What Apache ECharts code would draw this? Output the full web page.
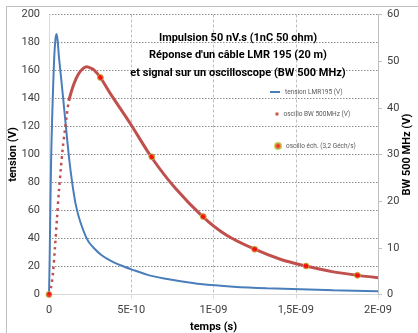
<!DOCTYPE html>
<html>
<head>
<meta charset="utf-8">
<script src="https://cdn.jsdelivr.net/npm/echarts@6/dist/echarts.min.js"></script>
<style>
html,body{margin:0;padding:0;background:#fff;}
#chart{width:418px;height:333px;}
</style>
</head>
<body>
<div id="chart"></div>
<script>
// time in ns (axis labels shown in seconds)
const xTickLabels = ['0', '5E-10', '1E-09', '1,5E-09', '2E-09'];
const leftTicks = [0, 20, 40, 60, 80, 100, 120, 140, 160, 180, 200];
const rightTicks = [0, 10, 20, 30, 40, 50, 60];

// tension LMR195 (V) - left axis
const tBlue = [0, 0.004, 0.008, 0.013, 0.019, 0.025, 0.032, 0.039, 0.045, 0.052, 0.061, 0.082, 0.102, 0.122, 0.142, 0.163, 0.19, 0.234, 0.274, 0.32, 0.376, 0.443, 0.505, 0.6, 0.7, 0.8, 0.92, 1.12, 1.325, 1.53, 1.73, 2.0];
const vBlue = [0, 25, 60, 97, 125, 148, 170, 182, 186, 182, 169, 145, 121, 97.5, 79, 64, 52, 39, 33, 28, 24, 20.5, 17.8, 14, 11.5, 9.5, 7.5, 5.6, 4.4, 3.7, 3.0, 2.3];

// oscillo BW 500MHz (V) - right axis, steep rising part
const tOscRise = [0, 0.012, 0.024, 0.036, 0.048, 0.060, 0.072, 0.084, 0.096, 0.108, 0.120];
const vOscRise = [0, 1.5, 4.5, 10, 16, 22, 27, 31.5, 35, 38.5, 41.5];
// oscillo BW 500MHz (V) - right axis, rest of curve
const tOsc = [0.120, 0.15, 0.18, 0.21, 0.23, 0.26, 0.274, 0.3125, 0.372, 0.493, 0.625, 0.767, 0.9375, 1.08, 1.25, 1.41, 1.5625, 1.72, 1.875, 2.0];
const vOsc = [41.5, 45, 47.3, 48.5, 48.8, 48.4, 48.1, 46.5, 43.1, 36.7, 29.3, 22.8, 16.6, 12.7, 9.7, 7.5, 6.1, 4.9, 4.1, 3.6];

// oscillo éch. (3,2 Géch/s) - right axis
const tSamp = [0, 0.3125, 0.625, 0.9375, 1.25, 1.5625, 1.875];
const vSamp = [0, 46.5, 29.5, 16.7, 9.7, 6.1, 4.1];

const names = ['tension LMR195 (V)', 'oscillo BW 500MHz (V)', 'oscillo éch. (3,2 Géch/s)'];
const titleText = 'Impulsion 50 nV.s (1nC 50 ohm)\nRéponse d\'un câble LMR 195 (20 m)\net signal sur un oscilloscope (BW 500 MHz)';

const zip = (a, b) => a.map((v, i) => [v, b[i]]);
const FONT = "Roboto, sans-serif";

const chart = echarts.init(document.getElementById('chart'), null, {renderer: 'canvas'});
const legendBase = {
  orient: 'vertical', padding: 0, itemGap: 0,
  textStyle: {fontSize: 6.5, color: '#595959', fontFamily: FONT, lineHeight: 8},
  selectedMode: false
};
chart.setOption({
  animation: false,
  backgroundColor: '#fff',
  graphic: [{
    type: 'rect', silent: true, z: -1,
    shape: {x: 6.5, y: 6.5, width: 430, height: 340},
    style: {fill: 'none', stroke: '#bfbfbf', lineWidth: 1}
  }],
  title: {
    text: titleText,
    left: 233, top: 24, textAlign: 'center',
    textStyle: {fontSize: 11, fontWeight: 'bold', fontFamily: FONT, color: '#000', lineHeight: 17.8}
  },
  legend: [
    Object.assign({}, legendBase, {left: 270, top: 88, itemWidth: 10, itemHeight: 2, symbolKeepAspect: false,
      data: [{name: names[0], icon: 'rect'}]}),
    Object.assign({}, legendBase, {left: 275.5, top: 110, itemWidth: 3, itemHeight: 3,
      data: [{name: names[1], icon: 'rect'}]}),
    Object.assign({}, legendBase, {left: 274, top: 142, itemWidth: 6, itemHeight: 6,
      data: [{name: names[2], icon: 'circle'}]})
  ],
  grid: {left: 49, right: 40, top: 14.5, bottom: 38.5, containLabel: false, outerBoundsMode: 'none'},
  xAxis: {
    type: 'value', min: 0, max: 2, interval: 0.5,
    name: 'temps (s)', nameLocation: 'middle', nameGap: 27, nameMoveOverlap: false,
    nameTextStyle: {fontSize: 11, fontWeight: 'bold', fontFamily: FONT, color: '#000'},
    axisLine: {show: true, lineStyle: {color: '#d9d9d9', width: 1}},
    axisTick: {show: true, length: 4, lineStyle: {color: '#d9d9d9'}},
    axisLabel: {fontSize: 11, color: '#404040', fontFamily: FONT, margin: 10,
      formatter: v => xTickLabels[Math.round(v / 0.5)]},
    splitLine: {show: true, lineStyle: {color: '#bfbfbf', type: [3, 2], width: 1}}
  },
  yAxis: [{
    type: 'value', min: leftTicks[0], max: leftTicks[leftTicks.length - 1], interval: 20,
    name: 'tension (V)', nameLocation: 'middle', nameGap: 30, nameMoveOverlap: false,
    nameTextStyle: {fontSize: 11, fontWeight: 'bold', fontFamily: FONT, color: '#000'},
    axisLine: {show: true, lineStyle: {color: '#d9d9d9'}},
    axisTick: {show: false},
    axisLabel: {fontSize: 11, color: '#404040', fontFamily: FONT, margin: 9},
    splitLine: {show: true, lineStyle: {color: '#8c8c8c', type: [1.5, 1.5], width: 1}}
  }, {
    type: 'value', position: 'right', min: rightTicks[0], max: rightTicks[rightTicks.length - 1], interval: 10,
    name: 'BW 500 MHz (V)', nameLocation: 'middle', nameGap: 24, nameMoveOverlap: false,
    nameTextStyle: {fontSize: 11, fontWeight: 'bold', fontFamily: FONT, color: '#000'},
    axisLine: {show: true, lineStyle: {color: '#bfbfbf'}},
    axisTick: {show: true, length: 4, lineStyle: {color: '#bfbfbf'}},
    axisLabel: {fontSize: 11, color: '#404040', fontFamily: FONT, margin: 9},
    splitLine: {show: false}
  }],
  series: [{
    name: names[0], type: 'line', yAxisIndex: 0, data: zip(tBlue, vBlue),
    showSymbol: false, smooth: 0.25, z: 2,
    itemStyle: {color: '#4a7ebb'},
    lineStyle: {color: '#4a7ebb', width: 2}
  }, {
    name: 'rise', type: 'line', yAxisIndex: 1, data: zip(tOscRise, vOscRise),
    showSymbol: false, smooth: 0.3, z: 3,
    lineStyle: {color: '#c0504d', width: 2.5, type: [2.5, 4]}
  }, {
    name: names[1], type: 'line', yAxisIndex: 1, data: zip(tOsc, vOsc),
    showSymbol: false, smooth: 0.3, z: 3,
    itemStyle: {color: '#d0504d'},
    lineStyle: {color: '#c0504d', width: 3}
  }, {
    name: names[2], type: 'scatter', yAxisIndex: 1, data: zip(tSamp, vSamp),
    symbol: 'circle', symbolSize: 6, z: 5,
    itemStyle: {color: '#ff0000', borderColor: '#b5c23a', borderWidth: 1}
  }]
});
</script>
</body>
</html>
